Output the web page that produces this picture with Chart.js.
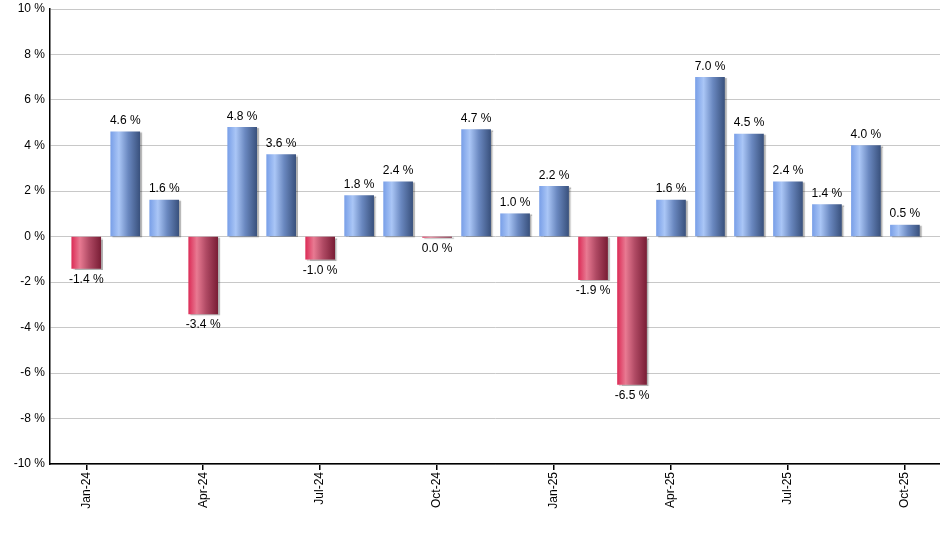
<!DOCTYPE html>
<html>
<head>
<meta charset="utf-8">
<style>
html,body{margin:0;padding:0;background:#fff;}
#wrap{width:940px;height:550px;position:relative;}
</style>
<script src="https://cdn.jsdelivr.net/npm/chart.js@4/dist/chart.umd.min.js"></script>
</head>
<body>
<div id="wrap"><canvas id="c" width="940" height="550"></canvas></div>
<script>
const months = ["Jan-24","Feb-24","Mar-24","Apr-24","May-24","Jun-24","Jul-24","Aug-24","Sep-24","Oct-24","Nov-24","Dec-24","Jan-25","Feb-25","Mar-25","Apr-25","May-25","Jun-25","Jul-25","Aug-25","Sep-25","Oct-25"];
const returns = [-1.4, 4.6, 1.6, -3.4, 4.8, 3.6, -1.0, 1.8, 2.4, -0.04, 4.7, 1.0, 2.2, -1.9, -6.5, 1.6, 7.0, 4.5, 2.4, 1.4, 4.0, 0.5];
const returnLabels = ["-1.4 %","4.6 %","1.6 %","-3.4 %","4.8 %","3.6 %","-1.0 %","1.8 %","2.4 %","0.0 %","4.7 %","1.0 %","2.2 %","-1.9 %","-6.5 %","1.6 %","7.0 %","4.5 %","2.4 %","1.4 %","4.0 %","0.5 %"];
const xTickIndexes = [0,3,6,9,12,15,18,21];
const yTicks = [-10,-8,-6,-4,-2,0,2,4,6,8,10];

const FONT = "'Liberation Sans', Arial, sans-serif";
const BAR_W = 29;

function barGradient(ctx) {
  const chart = ctx.chart;
  const i = ctx.dataIndex;
  const v = returns[i];
  const pos = v >= 0;
  if (!chart.chartArea || !chart.scales.x) return pos ? '#7fa3e6' : '#d8345a';
  const cx = chart.scales.x.getPixelForValue(i);
  const g = chart.ctx.createLinearGradient(cx - BAR_W/2, 0, cx + BAR_W/2, 0);
  if (pos) {
    g.addColorStop(0, '#7aa0e8');
    g.addColorStop(0.28, '#aac6f6');
    g.addColorStop(0.6, '#6a88c0');
    g.addColorStop(1, '#3a527e');
  } else {
    g.addColorStop(0, '#dc2e58');
    g.addColorStop(0.28, '#e87a92');
    g.addColorStop(0.6, '#b04a64');
    g.addColorStop(1, '#7a1e36');
  }
  return g;
}

const shadowPlugin = {
  id: 'barShadow',
  beforeDatasetsDraw(chart) {
    const c = chart.ctx;
    c.save();
    c.shadowColor = 'rgba(0,0,0,0.3)';
    c.shadowOffsetX = 2;
    c.shadowOffsetY = 1;
    c.shadowBlur = 1;
  },
  afterDatasetsDraw(chart) {
    chart.ctx.restore();
    const c = chart.ctx;
    const meta = chart.getDatasetMeta(0);
    c.save();
    c.font = '12px ' + FONT;
    c.fillStyle = '#000';
    c.textAlign = 'center';
    meta.data.forEach((bar, i) => {
      const v = returns[i];
      const props = bar.getProps(['x','y','base'], true);
      if (v >= 0) {
        c.textBaseline = 'bottom';
        c.fillText(returnLabels[i], props.x, Math.min(props.y, props.base) - 5);
      } else {
        c.textBaseline = 'top';
        c.fillText(returnLabels[i], props.x, Math.max(props.y, props.base) + 5);
      }
    });
    c.restore();
  }
};

new Chart(document.getElementById('c'), {
  type: 'bar',
  data: {
    datasets: [{
      data: returns.map((v, i) => ({x: i, y: v})),
      backgroundColor: barGradient,
      borderWidth: 0,
      barThickness: BAR_W
    }]
  },
  options: {
    responsive: false,
    animation: false,
    devicePixelRatio: 1,
    layout: {padding: {top: 9, right: 0, left: 0, bottom: 0}},
    plugins: {legend: {display: false}, tooltip: {enabled: false}},
    scales: {
      x: {
        type: 'linear',
        min: -0.93,
        max: 21.9,
        offset: false,
        afterBuildTicks(scale) { scale.ticks = xTickIndexes.map(v => ({value: v})); },
        afterFit(scale) { scale.height = 86; scale.paddingLeft = 0; scale.paddingRight = 0; },
        grid: {offset: false, drawOnChartArea: false, drawTicks: true, tickLength: 6, color: '#000', lineWidth: 1.5},
        border: {display: true, color: '#000', width: 1.5},
        ticks: {
          autoSkip: false,
          minRotation: 90,
          maxRotation: 90,
          padding: 2,
          color: '#000',
          font: {family: FONT, size: 12},
          callback: (v) => months[v]
        }
      },
      y: {
        min: -10,
        max: 10,
        afterBuildTicks(scale) { scale.ticks = yTicks.map(v => ({value: v})); },
        afterFit(scale) { scale.width = 50; scale.paddingTop = 0; scale.paddingBottom = 0; },
        grid: {color: '#c8c8c8', lineWidth: 1, drawTicks: false},
        border: {display: true, color: '#000', width: 1.5},
        ticks: {
          padding: 5,
          color: '#000',
          font: {family: FONT, size: 12},
          callback: (v) => v + ' %'
        }
      }
    }
  },
  plugins: [shadowPlugin]
});
</script>
</body>
</html>
